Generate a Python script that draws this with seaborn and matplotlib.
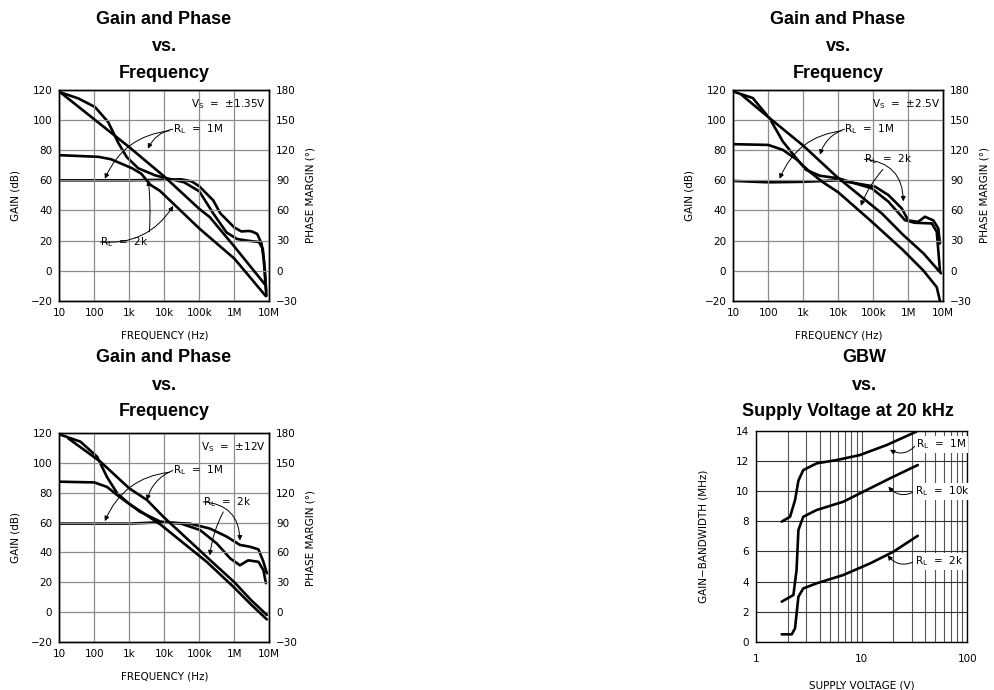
import numpy as np
import pandas as pd
import matplotlib
matplotlib.use("Agg")
import matplotlib.pyplot as plt
import seaborn as sns

sns.set_style("white")
plt.rcParams['font.family'] = ['DejaVu Sans']
plt.rcParams['mathtext.default'] = 'regular'
for k in ('text.color', 'axes.labelcolor', 'xtick.color', 'ytick.color', 'axes.edgecolor'):
    plt.rcParams[k] = 'black'

# ---------------- data ----------------
freq_ticks = [10, 100, 1e3, 1e4, 1e5, 1e6, 1e7]
freq_labels = ['10', '100', '1k', '10k', '100k', '1M', '10M']
gain_ticks = [-20, 0, 20, 40, 60, 80, 100, 120]
phase_ticks = [-30, 0, 30, 60, 90, 120, 150, 180]

# Vs = +-1.35V
f135_g1M = [10, 100, 1e3, 1e4, 1e5, 2e5, 1e6, 8e6]
g135_1M = [119, 100.5, 82, 62.5, 41, 35.5, 16, -10]
f135_g2k = [10, 130, 300, 600, 1.2e3, 2.2e3, 4e3, 7.5e3, 1e5, 1e6, 8e6]
g135_2k = [76.7, 75.6, 74, 71, 68, 64.4, 57, 53, 28, 8, -17]
f135_p1M = [10, 1e3, 1e4, 3e4, 6e4, 1e5, 2.5e5, 4e5, 1e6, 1.6e6, 2.5e6, 3.2e6, 4.5e6, 6e6, 7e6, 7.6e6, 8.3e6]
p135_1M = [90, 90, 90.5, 91, 89, 84, 70, 57, 43, 39, 39.5, 39, 36.6, 27, 10, -9, -25]
f135_p2k = [10, 35, 105, 250, 490, 850, 1.8e3, 5.4e3, 1.05e4, 3.7e4, 1e5, 2.5e5, 6e5, 1.2e6, 2.2e6, 5e6, 6.5e6, 7.5e6, 8.1e6]
p135_2k = [178, 171.6, 163, 148, 127, 113, 102, 95, 92.4, 88, 79, 57, 38, 31.5, 30, 28.5, 22, 0, -20]

# Vs = +-2.5V
f25_g1M = [17, 100, 1e3, 9e3, 1.75e5, 7.2e5, 2.7e6, 8.6e6]
g25_1M = [116.9, 102, 83, 62.4, 38, 23.6, 11.5, -1.8]
f25_g2k = [10, 100, 260, 630, 1.5e3, 3.5e3, 1e4, 8e4, 7e5, 2.7e6, 6.5e6, 8e6]
g25_2k = [84, 83.5, 80.2, 74, 65.8, 59, 52, 33.6, 13.7, 0, -11, -20]
f25_p1M = [10, 100, 1e3, 1e4, 1.12e5, 2.7e5, 6.5e5, 1e6, 1.9e6, 3e6, 5.2e6, 7.2e6, 8e6]
p25_1M = [89.4, 88, 88.5, 90, 83.7, 75.3, 62, 50, 48.6, 53.7, 50, 42, 27]
f25_p2k = [10, 36, 110, 260, 630, 1.2e3, 3e3, 1e4, 9e4, 2.7e5, 8e5, 1.5e6, 4.7e6, 6.5e6, 7.6e6, 8e6]
p25_2k = [178.5, 172, 151.5, 128.7, 112, 100.4, 94.5, 92, 82, 68.7, 50.3, 47.7, 47, 38.7, 10, 0]

# Vs = +-12V
f12_g1M = [18, 150, 1e3, 3.2e3, 9.3e3, 1e5, 2e5, 1e6, 3e6, 8.5e6]
g12_1M = [116.6, 100.9, 83, 75.2, 64, 41.6, 35, 20, 8, -2]
f12_g2k = [10, 100, 230, 450, 1.1e3, 2.6e3, 7.7e3, 1.62e5, 9.4e5, 3e6, 8.5e6]
g12_2k = [87.5, 87, 84, 78.5, 71.8, 66.2, 58.8, 33.7, 16.9, 5, -5]
f12_p1M = [10, 1e3, 7.5e3, 5.4e4, 2e5, 6e5, 1.45e6, 2.8e6, 4.9e6, 6.8e6, 8.5e6]
p12_1M = [89, 89, 90.3, 89, 84, 76, 67.5, 65.7, 63, 50.5, 39]
f12_p2k = [10, 40, 120, 230, 450, 850, 2e3, 7.7e3, 3e4, 1.05e5, 3.15e5, 7.6e5, 1.45e6, 2.5e6, 4.9e6, 6.8e6, 8e6]
p12_2k = [179, 171.6, 156.5, 136, 119.6, 111, 101, 91, 89, 82.5, 69, 54, 47, 52, 50.5, 42, 29]

# GBW vs supply voltage
v_1M = [1.75, 2.1, 2.34, 2.52, 2.8, 3.75, 5.8, 9.6, 17.3, 33]
gbw_1M = [7.98, 8.3, 9.4, 10.7, 11.4, 11.85, 12.07, 12.4, 13.07, 13.96]
v_10k = [1.75, 2.26, 2.42, 2.52, 2.8, 3.75, 6.7, 12, 18.5, 34]
gbw_10k = [2.66, 3.1, 4.76, 7.42, 8.3, 8.75, 9.3, 10.19, 10.85, 11.74]
v_2k = [1.75, 2.18, 2.34, 2.52, 2.8, 3.75, 6.7, 12, 20, 34]
gbw_2k = [0.49, 0.49, 0.89, 2.99, 3.54, 3.88, 4.43, 5.2, 5.98, 7.04]

# ---------------- figure ----------------
W, H = 994, 690
fig = plt.figure(figsize=(W / 100, H / 100), dpi=100)

def fbox(l, r, t, b):
    return [l / W, 1 - b / H, (r - l) / W, (b - t) / H]

TICK_FS = 7.5
LW = 1.9
GRID_C = '#8c8c8c'

def curve(ax, x, y):
    df = pd.DataFrame({'x': x, 'y': y})
    sns.lineplot(data=df, x='x', y='y', ax=ax, color='black', lw=LW,
                 sort=False, estimator=None, legend=False)

def arrow(ax, text, xy_text, xy, rad, relpos):
    ax.annotate(text, xy=xy, xytext=xy_text, textcoords='data', fontsize=TICK_FS,
                ha='left', va='center',
                arrowprops=dict(arrowstyle='-|>', color='black', lw=0.7,
                                mutation_scale=7, shrinkA=0, shrinkB=0, relpos=relpos,
                                connectionstyle=f'arc3,rad={rad}'))

def gain_panel(box, vs, g1f, g1, g2f, g2, p1f, p1, p2f, p2, ann):
    ax = fig.add_axes(box)
    ax2 = ax.twinx()
    curve(ax, g1f, g1)
    curve(ax, g2f, g2)
    curve(ax2, p1f, p1)
    curve(ax2, p2f, p2)
    for a in (ax, ax2):
        a.set_xscale('log')
        a.set_xlim(10, 1e7)
    ax.set_ylim(-20, 120)
    ax2.set_ylim(-30, 180)
    ax.set_xticks(freq_ticks)
    ax.set_xticklabels(freq_labels)
    ax.xaxis.set_minor_locator(matplotlib.ticker.NullLocator())
    ax2.xaxis.set_minor_locator(matplotlib.ticker.NullLocator())
    ax.set_yticks(gain_ticks)
    ax.set_yticklabels([str(v).replace('-', '\u2212') for v in gain_ticks])
    ax2.set_yticks(phase_ticks)
    ax2.set_yticklabels([str(v).replace('-', '\u2212') for v in phase_ticks])
    ax.grid(True, which='major', color=GRID_C, lw=0.9)
    ax2.grid(False)
    ax.tick_params(axis='both', length=0, labelsize=TICK_FS, pad=5)
    ax2.tick_params(axis='both', length=0, labelsize=TICK_FS, pad=5)
    ax.set_xlabel('FREQUENCY (Hz)', fontsize=TICK_FS, labelpad=9)
    ax.set_ylabel('GAIN (dB)', fontsize=TICK_FS, labelpad=7)
    ax2.set_ylabel('PHASE MARGIN (\u00b0)', fontsize=TICK_FS, labelpad=5)
    for a in (ax, ax2):
        for s in a.spines.values():
            s.set_color('black')
            s.set_linewidth(1.0)
    ax.text(0.985, 0.935, '$V_S$  =  \u00b1' + vs, transform=ax.transAxes,
            ha='right', va='center', fontsize=TICK_FS)
    ax.set_zorder(ax2.get_zorder() + 1)
    ax.patch.set_visible(False)
    for (txt, pos, tips, relpos) in ann:
        for i, (tip, rad) in enumerate(tips):
            arrow(ax, txt if i == 0 else '', pos, tip, rad, relpos)
    return ax

top_t, top_b = 90, 300.7
bot_t, bot_b = 433.3, 641.7

gain_panel(fbox(59.3, 269.3, top_t, top_b), '1.35V',
           f135_g1M, g135_1M, f135_g2k, g135_2k, f135_p1M, p135_1M, f135_p2k, p135_2k,
           [('$R_L$  =  1M', (1.75e4, 94), [((200, 61), 0.3), ((3.4e3, 81), 0.25)], (0, 0.4)),
            ('$R_L$  =  2k', (150, 19), [((3.5e3, 60), 0.05), ((1.8e4, 43), 0.3)], (1, 0.6))])

gain_panel(fbox(733.3, 943.3, top_t, top_b), '2.5V',
           f25_g1M, g25_1M, f25_g2k, g25_2k, f25_p1M, p25_1M, f25_p2k, p25_2k,
           [('$R_L$  =  1M', (1.5e4, 94), [((210, 61), 0.3), ((3e3, 77), 0.25)], (0, 0.4)),
            ('$R_L$  =  2k', (5.5e4, 74), [((4.4e4, 43), 0.1), ((7.2e5, 46), -0.45)], (0.45, 0))])

gain_panel(fbox(59.3, 269.3, bot_t, bot_b), '12V',
           f12_g1M, g12_1M, f12_g2k, g12_2k, f12_p1M, p12_1M, f12_p2k, p12_2k,
           [('$R_L$  =  1M', (1.75e4, 95), [((200, 61), 0.3), ((3.2e3, 75), 0.25)], (0, 0.4)),
            ('$R_L$  =  2k', (1.3e5, 74), [((2e5, 38), 0.1), ((1.45e6, 48), -0.45)], (0.45, 0))])

# GBW panel
axg = fig.add_axes(fbox(756, 967.3, 431, 641.7))
curve(axg, v_1M, gbw_1M)
curve(axg, v_10k, gbw_10k)
curve(axg, v_2k, gbw_2k)
axg.set_xscale('log')
axg.set_xlim(1, 100)
axg.set_ylim(0, 14)
axg.set_xticks([1, 10, 100])
axg.set_xticklabels(['1', '10', '100'])
axg.set_xticks([v * d for d in (1, 10) for v in range(2, 10)], minor=True)
axg.set_yticks(range(0, 15, 2))
axg.grid(True, which='both', axis='x', color='#555555', lw=0.8)
axg.grid(True, which='major', axis='y', color='#333333', lw=0.8)
axg.tick_params(axis='both', which='both', length=0, labelsize=TICK_FS, pad=5)
axg.tick_params(axis='x', which='both', pad=8.5)
axg.set_xlabel('SUPPLY VOLTAGE (V)', fontsize=TICK_FS, labelpad=12)
axg.set_ylabel('GAIN\u2212BANDWIDTH (MHz)', fontsize=TICK_FS, labelpad=20)
for s in axg.spines.values():
    s.set_color('black')
    s.set_linewidth(1.0)
bb = dict(boxstyle='square,pad=0.15', fc='white', ec='none')
for txt, pos, tip in [('$R_L$  =  1M', (33, 13.1), (18.5, 12.75)),
                      ('$R_L$  =  10k', (32, 10.0), (17.9, 10.3)),
                      ('$R_L$  =  2k', (32, 5.35), (17.6, 5.75))]:
    axg.annotate(txt, xy=tip, xytext=pos, fontsize=TICK_FS, ha='left', va='center',
                 bbox=bb,
                 arrowprops=dict(arrowstyle='-|>', color='black', lw=0.7,
                                 mutation_scale=7, shrinkA=0, shrinkB=0, relpos=(0, 0.5),
                                 connectionstyle='arc3,rad=-0.4'))

# titles
TFS = 13
def title_lines(ys, lines, cxs):
    for y, t, x in zip(ys, lines, cxs):
        fig.text(x / W, 1 - y / H, t, ha='center', va='center', fontsize=TFS,
                 fontweight='bold', family=['Liberation Sans', 'DejaVu Sans'])

top_ys = [20, 46.5, 73]
bot_ys = [358, 385, 412]
title_lines(top_ys, ['Gain and Phase', 'vs.', 'Frequency'], [164] * 3)
title_lines(top_ys, ['Gain and Phase', 'vs.', 'Frequency'], [838] * 3)
title_lines(bot_ys, ['Gain and Phase', 'vs.', 'Frequency'], [164] * 3)
title_lines(bot_ys, ['GBW', 'vs.', 'Supply Voltage at 20 kHz'], [864, 864, 848])

fig.savefig('out.png', dpi=100)
